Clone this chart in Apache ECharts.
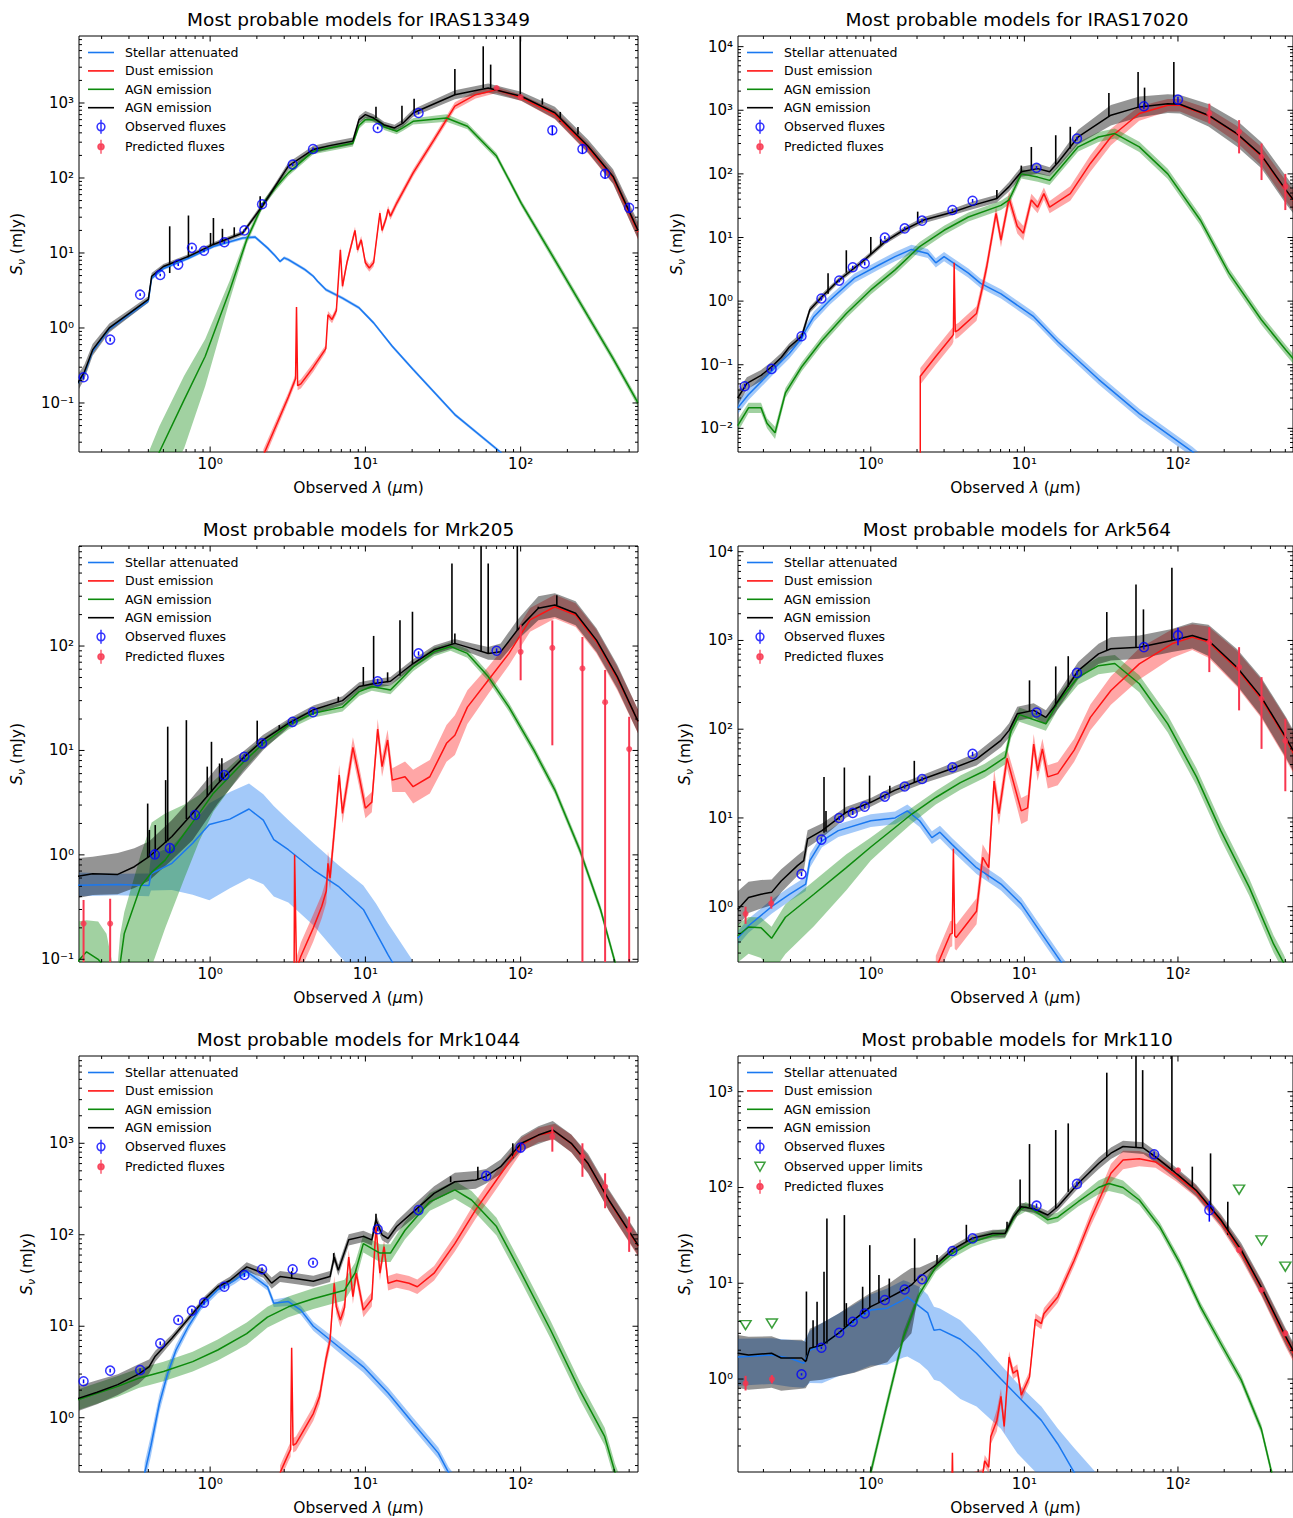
<!DOCTYPE html>
<html><head><meta charset="utf-8">
<script src="https://cdn.jsdelivr.net/npm/echarts@6/dist/echarts.min.js"></script>
<style>html,body{margin:0;padding:0;background:#fff}#c{width:1293px;height:1518px}</style>
</head><body><div id="c"></div>
<script>
// ---------------- DATA ----------------
// curve tuples: [wavelength_um, flux_mJy, bandLowerFactor, bandUpperFactor]
// spikes: [wavelength, base, peak]; observed: [wavelength, flux, err]; predicted: [wavelength, flux, low, high]
const xTickValues = [1, 10, 100];
const xTickLabels = ['10⁰', '10¹', '10²'];

// ---- IRAS13349 ----
const p1_yTicks = [0.1, 1, 10, 100, 1000];
const p1_yLabels = ['10⁻¹', '10⁰', '10¹', '10²', '10³'];
const p1_stellar = [[0.137,0.17,1.08,1.08],[0.155,0.25,1.08,1.08],[0.175,0.49,1.08,1.08],[0.224,0.97,1.07,1.07],[0.306,1.55,1.07,1.07],[0.40,2.3,1.06,1.06],[0.42,4.6,1.06,1.06],[0.50,6.2,1.05,1.05],[0.725,8.5,1.05,1.05],[1.05,12.2,1.05,1.05],[1.62,15.8,1.05,1.05],[1.95,16.3,1.05,1.05],[2.34,11.7,1.05,1.05],[2.62,9.2,1.05,1.05],[2.82,7.7,1.05,1.05],[3.0,8.6,1.05,1.05],[3.19,8.15,1.05,1.05],[3.61,7.0,1.05,1.05],[4.08,6.0,1.05,1.05],[4.62,4.9,1.05,1.05],[4.92,4.2,1.05,1.05],[5.56,3.25,1.05,1.05],[7.12,2.5,1.05,1.05],[9.12,1.85,1.05,1.05],[11.3,1.17,1.05,1.05],[14.9,0.57,1.05,1.05],[20.3,0.28,1.05,1.05],[37.7,0.07,1.05,1.05],[74.3,0.022,1.05,1.05],[100,0.011,1.05,1.05]];
const p1_dust = [[2.2,0.02,1.2,1.2],[3.19,0.12,1.15,1.15],[3.55,0.21,1.15,1.15],[3.6,1.9,1.1,1.1],[3.66,0.17,1.15,1.15],[3.84,0.18,1.15,1.15],[4.62,0.3,1.15,1.15],[5.56,0.53,1.12,1.12],[5.74,1.5,1.12,1.12],[6.1,1.3,1.12,1.12],[6.5,1.7,1.12,1.12],[6.9,11,1.12,1.12],[7.12,3.6,1.12,1.12],[7.6,7.4,1.12,1.12],[8.57,20,1.12,1.12],[8.9,11,1.12,1.12],[9.4,15,1.12,1.12],[10.0,7.4,1.12,1.12],[10.6,6.3,1.12,1.12],[11.3,7.4,1.12,1.12],[12.0,20,1.12,1.12],[12.4,34,1.12,1.12],[12.8,20,1.12,1.12],[13.6,29,1.12,1.12],[14.0,38,1.12,1.12],[14.5,31,1.12,1.12],[15.9,46,1.12,1.12],[20.3,117,1.12,1.12],[27.7,325,1.12,1.12],[37.7,910,1.12,1.12],[51.3,1290,1.12,1.12],[69.9,1500,1.1,1.1],[101,1170,1.1,1.1],[166,700,1.15,1.15],[272,250,1.18,1.18],[394,100,1.2,1.2],[570,19,1.25,1.25]];
const p1_agn = [[0.40,0.009,4,2.4],[0.47,0.022,4,2.2],[0.68,0.11,4.4,2.1],[0.93,0.42,2.5,1.7],[1.34,3.2,1.35,1.35],[1.72,15,1.15,1.15],[2.2,46,1.1,1.1],[2.65,75,1.1,1.1],[3.19,117,1.1,1.1],[4.62,228,1.1,1.1],[8.3,290,1.1,1.1],[9.1,500,1.1,1.1],[10,600,1.1,1.1],[11.7,600,1.1,1.1],[13.2,480,1.1,1.1],[15.9,420,1.1,1.1],[17.5,470,1.1,1.1],[20.3,570,1.1,1.1],[33.3,630,1.12,1.12],[45.4,490,1.1,1.1],[69.9,196,1.1,1.1],[101,46,1.1,1.1],[166,8.1,1.12,1.12],[272,1.43,1.12,1.12],[394,0.39,1.12,1.12],[570,0.1,1.12,1.12]];
const p1_total = [[0.137,0.17,1.3,1.3],[0.155,0.26,1.25,1.25],[0.175,0.51,1.2,1.2],[0.224,1.0,1.15,1.15],[0.306,1.6,1.12,1.12],[0.40,2.4,1.1,1.1],[0.42,4.9,1.1,1.1],[0.50,6.6,1.08,1.08],[0.725,9.0,1.07,1.07],[1.05,13,1.07,1.07],[1.62,18.5,1.07,1.07],[2.2,44,1.1,1.1],[2.65,80,1.1,1.1],[3.19,144,1.12,1.12],[4.62,240,1.12,1.12],[5.9,270,1.12,1.12],[8.3,310,1.12,1.12],[9.1,600,1.12,1.12],[10,700,1.12,1.12],[11.3,630,1.12,1.12],[13.2,510,1.1,1.1],[15.4,465,1.1,1.1],[17.5,540,1.12,1.12],[20.3,736,1.12,1.12],[37.7,1290,1.15,1.15],[61.8,1580,1.15,1.15],[101,1230,1.15,1.15],[166,740,1.2,1.2],[272,265,1.22,1.22],[394,105,1.25,1.25],[570,20,1.3,1.3]];
const p1_spikes = [[0.549,5.4,22.7],[0.725,8.6,31.6],[1.006,12.3,18.5],[1.05,12.9,29.3],[1.2,14.3,21],[1.43,16.7,22],[2.1,38,57],[11.7,630,890],[17.2,540,920],[20.6,760,1140],[37.7,1290,2830],[57.4,1570,5700],[64.1,1580,3250],[99.4,1240,9000],[138,950,1150],[180,560,760],[234,380,480]];
const p1_obs = [[0.153,0.22,0.015],[0.227,0.70,0.04],[0.354,2.78,0.12],[0.477,5.1,0.2],[0.623,7.0,0.3],[0.763,11.7,0.5],[0.913,10.7,0.5],[1.235,13.9,0.6],[1.662,20,0.9],[2.159,44.6,2],[3.4,151,6],[4.6,244,10],[12,464,20],[22,736,30],[160,433,60],[250,244,34],[350,114,16],[500,40,6]];
const p1_pred = [[70,1585,1540,1630],[100,1200,1160,1240]];

// ---- IRAS17020 ----
const p2_yTicks = [0.01, 0.1, 1, 10, 100, 1000, 10000];
const p2_yLabels = ['10⁻²', '10⁻¹', '10⁰', '10¹', '10²', '10³', '10⁴'];
const p2_stellar = [[0.136,0.021,1.25,1.25],[0.160,0.034,1.22,1.22],[0.226,0.079,1.2,1.2],[0.295,0.15,1.2,1.2],[0.355,0.26,1.2,1.2],[0.377,0.35,1.2,1.2],[0.426,0.57,1.2,1.2],[0.543,1.04,1.18,1.18],[0.783,2.3,1.18,1.18],[1.13,3.7,1.18,1.18],[1.44,5.0,1.18,1.18],[1.84,6.5,1.18,1.18],[2.35,5.6,1.18,1.18],[2.65,4.0,1.18,1.18],[3.0,5.0,1.18,1.18],[4.32,2.75,1.18,1.18],[5.19,1.9,1.18,1.18],[7.04,1.3,1.18,1.18],[11.5,0.57,1.18,1.18],[16.5,0.23,1.18,1.18],[30.4,0.059,1.2,1.2],[56,0.017,1.2,1.2],[124,0.0043,1.2,1.2],[160,0.0025,1.2,1.2]];
const p2_dust = [[2.1,0.002,1,1],[2.1,0.066,1.35,1.35],[2.65,0.135,1.35,1.35],[3.39,0.28,1.35,1.35],[3.45,0.3,1.3,1.3],[3.49,4.0,1.1,1.1],[3.55,0.33,1.3,1.3],[3.71,0.35,1.3,1.3],[4.88,0.64,1.3,1.3],[5.35,1.7,1.3,1.3],[5.69,3.5,1.3,1.3],[6.54,24,1.3,1.3],[7.04,9.1,1.3,1.3],[7.95,41,1.3,1.3],[8.99,15,1.3,1.3],[9.85,11.7,1.3,1.3],[11.1,39,1.25,1.25],[12.2,30,1.25,1.25],[13.4,49,1.25,1.25],[14.6,30,1.25,1.25],[19.9,49,1.3,1.3],[26.9,146,1.35,1.35],[36.6,380,1.35,1.35],[56,890,1.3,1.3],[85.8,1200,1.25,1.25],[103,1200,1.25,1.25],[158,820,1.3,1.3],[242,420,1.35,1.35],[349,190,1.4,1.4],[504,54,1.45,1.45],[570,37,1.45,1.45]];
const p2_agn = [[0.136,0.011,1.25,1.25],[0.160,0.021,1.2,1.2],[0.193,0.021,1.2,1.2],[0.211,0.012,1.2,1.2],[0.238,0.0085,1.25,1.25],[0.278,0.036,1.2,1.2],[0.355,0.093,1.18,1.18],[0.481,0.24,1.18,1.18],[0.693,0.64,1.18,1.18],[1.0,1.5,1.18,1.18],[1.44,3.1,1.18,1.18],[2.08,7.2,1.18,1.18],[3.0,13,1.18,1.18],[4.32,21,1.18,1.18],[7.04,32,1.18,1.18],[7.95,39,1.18,1.18],[9.55,100,1.18,1.18],[12.2,89,1.18,1.18],[14.6,79,1.18,1.18],[22.4,266,1.18,1.18],[30.4,380,1.2,1.2],[38.8,430,1.2,1.2],[56,266,1.2,1.2],[85.8,100,1.2,1.2],[140,18.7,1.2,1.2],[214,2.8,1.2,1.2],[349,0.51,1.2,1.2],[504,0.17,1.2,1.2],[570,0.12,1.2,1.2]];
const p2_total = [[0.136,0.030,1.3,1.3],[0.156,0.051,1.25,1.25],[0.193,0.068,1.22,1.22],[0.226,0.093,1.2,1.2],[0.261,0.13,1.18,1.18],[0.295,0.19,1.15,1.15],[0.355,0.28,1.15,1.15],[0.377,0.45,1.15,1.15],[0.401,0.73,1.12,1.12],[0.481,1.17,1.12,1.12],[0.614,2.1,1.1,1.1],[0.885,4.2,1.1,1.1],[1.24,8.6,1.1,1.1],[1.63,13,1.1,1.1],[2.21,18.8,1.12,1.12],[3.39,25,1.12,1.12],[4.6,32,1.15,1.15],[6.62,41,1.15,1.15],[7.95,63,1.18,1.18],[9.55,108,1.2,1.2],[12.2,121,1.2,1.2],[14.6,108,1.18,1.18],[16.5,150,1.2,1.2],[22.4,380,1.3,1.3],[36.6,835,1.45,1.45],[56,1130,1.45,1.45],[85.8,1270,1.4,1.4],[103,1240,1.4,1.4],[158,835,1.5,1.5],[242,430,1.6,1.6],[349,197,1.6,1.6],[504,56,1.65,1.65],[570,38,1.65,1.65]];
const p2_spikes = [[0.527,1.3,2.75],[0.693,2.8,6.3],[1.0,5.5,10.2],[1.16,7.5,9.5],[2.02,17,25.5],[6.62,41,56],[9.55,105,135],[11.1,118,265],[16.0,140,405],[19.9,250,550],[35.5,800,1870],[55,1120,4000],[60.6,1150,2270],[94,1260,5740]];
const p2_obs = [[0.151,0.046,0.004],[0.226,0.086,0.006],[0.354,0.28,0.02],[0.477,1.1,0.08],[0.623,2.1,0.12],[0.763,3.4,0.2],[0.913,3.9,0.25],[1.235,9.95,0.6],[1.662,13.9,0.9],[2.159,18.4,1.2],[3.4,27,1.5],[4.6,37.8,2.5],[12,125,8],[22,360,25],[60,1155,120],[100,1470,160]];
const p2_pred = [[160,890,620,1270],[250,460,210,700],[350,185,80,300],[500,63,27,100]];

// ---- Mrk205 ----
const p3_yTicks = [0.1, 1, 10, 100];
const p3_yLabels = ['10⁻¹', '10⁰', '10¹', '10²'];
const p3_stellar = [[0.137,0.51,1.27,1.33],[0.254,0.52,1.27,1.27],[0.404,0.51,1.27,1.3],[0.416,0.66,1.45,1.5],[0.567,0.83,1.8,1.45],[0.772,1.29,3.1,1.55],[0.988,1.95,5.3,1.6],[1.34,2.2,4.6,1.82],[1.78,2.75,4.6,1.75],[2.2,2.15,4.1,1.77],[2.57,1.4,3.5,2.1],[3.19,1.12,3.2,1.93],[4.62,0.72,3.4,1.8],[6.69,0.5,4.5,1.6],[9.7,0.30,5,1.7],[11.7,0.18,5,1.9],[14,0.11,5,2.0],[20,0.045,5,2.2]];
const p3_dust = [[3.47,0.05,1,1],[3.5,1.0,1.1,1.1],[3.6,0.08,1.3,1.3],[3.84,0.107,1.35,1.35],[4.62,0.2,1.35,1.35],[5.23,0.32,1.3,1.3],[5.6,0.45,1.3,1.3],[5.74,0.83,1.3,1.3],[5.92,0.6,1.3,1.3],[6.49,2.7,1.3,1.3],[6.78,5.8,1.25,1.25],[7.12,2.5,1.25,1.25],[8.31,10.7,1.25,1.25],[9.12,5.6,1.25,1.25],[10,2.8,1.25,1.25],[11,3.2,1.25,1.25],[12,16,1.25,1.25],[12.8,7,1.25,1.25],[13.9,12.6,1.25,1.25],[14.9,5.2,1.3,1.3],[18,5.6,1.4,1.4],[20.3,4.5,1.45,1.45],[26,5.6,1.45,1.45],[33.3,11.7,1.5,1.5],[37.7,14,1.55,1.55],[45.4,26,1.45,1.45],[61.8,47,1.35,1.35],[84.1,85,1.3,1.3],[115,178,1.3,1.3],[166,238,1.3,1.3],[226,198,1.3,1.3],[308,110,1.3,1.3],[419,49,1.3,1.3],[570,19,1.3,1.3]];
const p3_agn = [[0.137,0.092,3,2.5],[0.16,0.118,3,2.0],[0.19,0.1,3,2.3],[0.215,0.08,3,2.2],[0.235,0.05,3,1.8],[0.25,0.045,3,1.5],[0.263,0.09,3,1.9],[0.28,0.177,5,1.6],[0.357,0.5,7,2.0],[0.42,0.68,8,3.0],[0.513,0.89,4.5,2.8],[0.682,1.6,2.7,1.9],[0.85,2.5,1.85,1.5],[1.05,3.9,1.5,1.3],[1.62,7.6,1.2,1.2],[2.2,11.7,1.12,1.12],[3.19,17.5,1.1,1.1],[4.62,22.7,1.1,1.1],[7.12,26,1.1,1.1],[9.12,36.6,1.1,1.1],[11.0,41,1.1,1.1],[14.5,38,1.1,1.1],[20.3,63,1.1,1.1],[27.7,88,1.1,1.1],[35.4,99,1.1,1.1],[45.4,85,1.1,1.1],[61.8,51,1.1,1.1],[84.1,26,1.1,1.1],[122,10,1.1,1.1],[166,4.2,1.1,1.1],[240,1.12,1.1,1.1],[327,0.30,1.1,1.1],[406,0.093,1.1,1.1],[500,0.03,1.1,1.1]];
const p3_total = [[0.137,0.62,1.63,1.5],[0.175,0.66,1.6,1.45],[0.254,0.65,1.55,1.6],[0.325,0.77,1.6,1.5],[0.404,0.96,1.7,1.4],[0.567,1.5,1.68,1.44],[0.772,2.5,1.8,1.44],[1.12,4.8,1.55,1.46],[1.62,8.4,1.4,1.15],[2.2,12.6,1.25,1.12],[3.19,18.2,1.1,1.1],[4.62,24.5,1.1,1.1],[7.12,30,1.1,1.1],[9.12,41,1.1,1.1],[11.7,44,1.1,1.1],[14.5,46,1.1,1.1],[20.3,68,1.1,1.1],[27.7,92,1.1,1.1],[37.7,106,1.1,1.1],[48.3,95,1.12,1.12],[61.8,85,1.15,1.15],[74.3,88,1.2,1.2],[95.2,142,1.25,1.25],[130,230,1.3,1.3],[166,247,1.3,1.3],[226,206,1.3,1.3],[308,114,1.3,1.3],[419,51,1.3,1.3],[570,19,1.3,1.3]];
const p3_spikes = [[0.396,0.95,3.1],[0.406,0.97,1.73],[0.443,1.05,1.93],[0.517,1.3,5.2],[0.533,1.35,16.9],[0.703,2.2,19.5],[0.958,3.6,7.0],[1.02,4.0,12.1],[1.15,5.0,7.5],[1.19,5.3,8.4],[2.01,11.5,19.3],[2.79,16,17.5],[6.69,29,32.7],[9.7,42,63],[11.3,44,125],[13.9,45,56],[16.7,52,177],[20.1,67,213],[36.1,105,617],[37.7,106,132],[55.6,88,1100],[61.8,85,617],[95.2,142,1100],[130,230,238],[171,247,307]];
const p3_obs = [[0.44,1.01,0.08],[0.55,1.16,0.1],[0.8,2.41,0.15],[1.235,5.8,0.35],[1.662,8.7,0.5],[2.159,11.7,0.7],[3.4,18.8,1.0],[4.6,23.2,1.3],[12,46,2.5],[22,85,4],[70,90,5]];
const p3_pred = [[0.153,0.22,0.01,0.37],[0.227,0.22,0.01,0.38],[100,88,47,159],[160,96,11.2,176],[250,61,0.01,122],[350,29,0.01,59],[500,10.3,0.01,21]];

// ---- Ark564 ----
const p4_yTicks = [1, 10, 100, 1000, 10000];
const p4_yLabels = ['10⁰', '10¹', '10²', '10³', '10⁴'];
const p4_stellar = [[0.136,0.44,1.2,1.2],[0.160,0.61,1.2,1.2],[0.226,1.0,1.2,1.2],[0.295,1.38,1.2,1.2],[0.377,1.8,1.2,1.2],[0.401,3.3,1.2,1.2],[0.481,5.5,1.18,1.18],[0.614,7.2,1.18,1.18],[1.0,9.3,1.18,1.18],[1.44,10,1.18,1.18],[1.73,12,1.18,1.18],[2.08,9.3,1.18,1.18],[2.5,6.0,1.18,1.18],[2.82,6.9,1.18,1.18],[3.39,5.0,1.18,1.18],[4.88,2.75,1.18,1.18],[7.04,1.8,1.18,1.18],[9.55,1.07,1.18,1.18],[13,0.49,1.18,1.18],[17.6,0.23,1.18,1.18],[25,0.1,1.18,1.18]];
const p4_dust = [[2.65,0.2,1.4,1.4],[3.29,0.49,1.4,1.4],[3.39,0.5,1.4,1.4],[3.45,4.5,1.15,1.15],[3.52,0.47,1.4,1.4],[3.6,0.45,1.4,1.4],[4.88,0.89,1.4,1.4],[5.35,3.6,1.4,1.4],[5.86,2.75,1.4,1.4],[6.35,26,1.35,1.35],[6.83,11.2,1.35,1.35],[7.71,47,1.3,1.3],[8.45,26,1.35,1.35],[9.55,12,1.4,1.4],[10.5,13,1.4,1.4],[11.5,68,1.3,1.3],[12.2,34,1.3,1.3],[13.1,60,1.3,1.3],[14.2,29,1.35,1.35],[16.5,31.6,1.35,1.35],[21.1,58,1.35,1.35],[26.9,136,1.4,1.4],[36.6,273,1.45,1.45],[56,545,1.5,1.5],[91.3,917,1.45,1.45],[124,1090,1.4,1.4],[158,960,1.5,1.5],[242,480,1.6,1.6],[349,220,1.65,1.65],[504,78,1.7,1.7],[570,52,1.7,1.7]];
const p4_agn = [[0.136,0.47,2,1.36],[0.160,0.59,2,1.3],[0.193,0.58,2.2,1.3],[0.226,0.44,2.5,1.35],[0.278,0.76,2.6,1.4],[0.426,1.38,2.3,1.41],[0.693,2.75,1.8,1.42],[1.0,4.7,1.42,1.28],[1.44,7.8,1.32,1.22],[1.84,11,1.28,1.18],[2.65,17,1.2,1.18],[3.83,25,1.2,1.2],[5.52,34,1.2,1.2],[7.48,48,1.2,1.2],[8.2,96,1.2,1.2],[9.27,146,1.2,1.2],[11.1,131,1.2,1.2],[13.8,115,1.2,1.2],[16.5,200,1.2,1.2],[22.4,387,1.22,1.22],[30.4,520,1.25,1.25],[38.8,550,1.25,1.25],[56,325,1.25,1.25],[85.8,115,1.25,1.25],[132,29,1.25,1.25],[190,7.2,1.25,1.25],[291,1.66,1.25,1.25],[419,0.38,1.25,1.25],[489,0.23,1.25,1.25],[570,0.12,1.25,1.25]];
const p4_total = [[0.136,0.93,1.55,1.6],[0.160,1.27,1.5,1.5],[0.193,1.38,1.45,1.45],[0.226,1.45,1.4,1.4],[0.261,1.95,1.35,1.35],[0.333,2.9,1.3,1.3],[0.366,3.3,1.3,1.3],[0.388,5.8,1.25,1.25],[0.481,7.2,1.2,1.2],[0.693,11.6,1.15,1.15],[1.0,15,1.12,1.12],[1.44,20.6,1.12,1.12],[2.21,27.6,1.12,1.12],[3.39,36,1.15,1.15],[4.88,46,1.18,1.18],[7.04,75,1.2,1.2],[7.95,97,1.2,1.2],[8.99,149,1.2,1.2],[11.5,163,1.2,1.2],[13.8,136,1.2,1.2],[15.6,178,1.22,1.22],[22.4,458,1.25,1.25],[30.4,707,1.3,1.3],[36.6,805,1.35,1.35],[56,840,1.35,1.35],[91.3,1000,1.35,1.35],[124,1140,1.4,1.4],[158,1000,1.5,1.5],[242,500,1.6,1.6],[349,230,1.65,1.65],[504,81,1.7,1.7],[570,55,1.7,1.7]];
const p4_spikes = [[0.496,6.8,29],[0.511,7.0,12],[0.673,11,37],[0.982,14.7,30],[1.33,19,23],[1.92,25,44],[10.8,160,355],[16,180,510],[19.3,300,665],[34.4,780,2090],[53.3,840,4270],[59.6,845,2240],[91.3,1000,6600]];
const p4_obs = [[0.354,2.33,0.12],[0.477,5.7,0.3],[0.623,10,0.5],[0.763,11.4,0.6],[0.913,13.4,0.7],[1.235,17.4,0.9],[1.662,22.6,1.2],[2.159,27.5,1.5],[3.4,37.3,2],[4.6,52.7,3],[12,154,8],[22,431,25],[60,841,50],[100,1140,255]];
const p4_pred = [[0.153,0.83,0.64,1.0],[0.225,1.09,0.95,1.3],[160,957,440,1410],[250,500,163,840],[350,220,60,386],[500,74,20,131]];

// ---- Mrk1044 ----
const p5_yTicks = [1, 10, 100, 1000];
const p5_yLabels = ['10⁰', '10¹', '10²', '10³'];
const p5_stellar = [[0.37,0.15,1.3,1.3],[0.379,0.25,1.3,1.3],[0.416,0.5,1.3,1.3],[0.471,1.43,1.25,1.25],[0.533,3.06,1.2,1.2],[0.603,5.5,1.15,1.15],[0.725,10,1.12,1.12],[0.873,16.4,1.1,1.1],[1.12,25,1.1,1.1],[1.43,31.6,1.1,1.1],[1.72,39.5,1.1,1.1],[2.07,31.6,1.1,1.1],[2.34,27,1.1,1.1],[2.57,17.8,1.1,1.1],[3.19,18.6,1.12,1.12],[3.84,15,1.12,1.12],[4.62,10,1.12,1.12],[6.69,6.0,1.15,1.15],[9.7,3.6,1.15,1.15],[14,1.86,1.15,1.15],[20.3,0.87,1.15,1.15],[29.5,0.41,1.15,1.15],[34.4,0.25,1.15,1.15],[45,0.14,1.15,1.15]];
const p5_dust = [[2.82,0.25,1.2,1.2],[3.19,0.4,1.2,1.2],[3.3,0.45,1.2,1.2],[3.35,5.8,1.1,1.1],[3.42,0.5,1.2,1.2],[3.57,0.52,1.2,1.2],[4.62,1.11,1.2,1.2],[5.07,1.7,1.2,1.2],[5.56,4.3,1.2,1.2],[5.92,7,1.2,1.2],[6.3,29.5,1.2,1.2],[6.49,16.4,1.2,1.2],[6.9,11.7,1.2,1.2],[7.34,16,1.2,1.2],[7.81,57,1.2,1.2],[8.31,21,1.2,1.2],[8.73,38,1.2,1.2],[9.7,15,1.2,1.2],[11,19.7,1.2,1.2],[11.7,124,1.2,1.2],[12.4,38,1.2,1.2],[13.2,74,1.2,1.2],[14,29.5,1.2,1.2],[15.9,31.6,1.2,1.2],[19.1,29.5,1.2,1.2],[21.6,27,1.2,1.2],[27.7,38,1.2,1.2],[37.7,80,1.22,1.22],[51.3,187,1.25,1.25],[69.9,397,1.25,1.25],[101,960,1.2,1.2],[130,1230,1.2,1.2],[166,1340,1.22,1.22],[212,990,1.25,1.25],[272,590,1.25,1.25],[370,235,1.28,1.28],[560,79,1.3,1.3],[570,75,1.3,1.3]];
const p5_agn = [[0.137,1.55,1.3,1.3],[0.254,2.2,1.3,1.3],[0.346,2.7,1.28,1.28],[0.501,3.2,1.28,1.28],[0.772,4.1,1.28,1.28],[1.12,5.5,1.3,1.3],[1.72,8.3,1.32,1.32],[2.34,12.6,1.3,1.3],[3.19,16.3,1.3,1.3],[4.62,20,1.3,1.3],[7.34,24.8,1.3,1.3],[8.57,38,1.3,1.3],[9.7,80,1.25,1.25],[12.4,63,1.25,1.25],[14.5,63,1.25,1.25],[18,112,1.25,1.25],[26,229,1.25,1.25],[37.7,309,1.25,1.25],[48.3,240,1.25,1.25],[69.9,123,1.25,1.25],[101,38,1.25,1.25],[156,9.1,1.25,1.25],[240,2.0,1.25,1.25],[348,0.62,1.25,1.25],[406,0.25,1.25,1.25],[500,0.1,1.25,1.25]];
const p5_total = [[0.137,1.6,1.38,1.37],[0.187,1.9,1.35,1.35],[0.254,2.3,1.3,1.3],[0.346,3.0,1.28,1.28],[0.404,3.6,1.2,1.2],[0.443,4.7,1.15,1.15],[0.567,7.4,1.1,1.1],[0.772,13.8,1.08,1.08],[0.929,20,1.08,1.08],[1.12,27,1.08,1.08],[1.34,31.6,1.1,1.1],[1.72,44.6,1.12,1.12],[2.2,38,1.12,1.12],[2.49,29.6,1.15,1.15],[2.82,35,1.15,1.15],[3.61,33,1.15,1.15],[4.62,31,1.15,1.15],[5.92,35,1.15,1.15],[6.3,57,1.15,1.15],[6.69,41,1.15,1.15],[7.81,88,1.15,1.15],[9.7,96,1.15,1.15],[11,88,1.15,1.15],[11.7,145,1.15,1.15],[12.8,100,1.15,1.15],[14,91,1.15,1.15],[15.9,123,1.15,1.15],[20.3,178,1.18,1.18],[27.7,283,1.2,1.2],[37.7,380,1.25,1.25],[51.3,397,1.25,1.25],[59.9,435,1.2,1.2],[74.3,555,1.2,1.2],[101,1000,1.2,1.2],[130,1230,1.25,1.25],[161,1400,1.25,1.25],[212,1000,1.25,1.25],[272,600,1.28,1.28],[370,240,1.3,1.3],[560,81,1.3,1.3],[570,76,1.3,1.3]];
const p5_spikes = [[3.35,33,40],[6.25,50,63],[11.7,140,170],[35.4,375,435],[53,400,555],[89,685,1000]];
const p5_obs = [[0.153,2.5,0.12],[0.227,3.27,0.15],[0.354,3.32,0.15],[0.477,6.5,0.3],[0.623,11.7,0.5],[0.763,14.8,0.7],[0.913,18.1,0.9],[1.235,27,1.3],[1.662,36.3,1.8],[2.159,41.9,2],[3.4,41.9,2],[4.6,49.5,2.5],[12,115,6],[22,186,9],[60,440,40],[100,897,90]];
const p5_pred = [[160,1180,810,1520],[250,715,430,1000],[350,337,195,470],[500,113,65,158]];

// ---- Mrk110 ----
const p6_yTicks = [1, 10, 100, 1000];
const p6_yLabels = ['10⁰', '10¹', '10²', '10³'];
const p6_stellar = [[0.136,1.7,2.0,1.55],[0.226,1.78,2.0,1.5],[0.295,1.66,2.0,1.55],[0.366,1.46,1.8,1.7],[0.401,2.0,2.2,1.6],[0.481,2.26,2.5,1.7],[0.614,3.0,2.8,1.6],[0.783,4.0,3.4,1.5],[1.0,5.25,3.8,1.45],[1.28,5.5,3.9,1.6],[1.63,6.7,4.0,1.6],[1.73,7.2,4.2,1.45],[2.08,5.7,3.9,1.6],[2.35,4.9,4.0,1.55],[2.58,3.24,3.3,1.75],[2.82,3.3,3.5,1.65],[3.83,2.6,4.2,1.58],[4.88,1.86,3.6,1.49],[7.04,1.0,3.3,1.4],[9.0,0.67,4,1.35],[12.9,0.37,4,1.4],[16.5,0.21,4,1.45],[21.1,0.106,4,1.8],[30,0.042,4,2.4]];
const p6_dust = [[3.38,0.09,1,1],[3.4,0.17,1.05,1.05],[3.42,0.09,1,1],[5.35,0.1,1.15,1.15],[5.52,0.14,1.15,1.15],[5.86,0.12,1.15,1.15],[6.04,0.25,1.2,1.2],[6.62,0.37,1.3,1.3],[7.04,0.66,1.2,1.2],[7.39,0.32,1.2,1.2],[7.95,1.7,1.15,1.15],[8.45,1.15,1.15,1.15],[8.99,1.24,1.15,1.15],[9.55,0.68,1.15,1.15],[10.8,1.05,1.15,1.15],[11.8,4.2,1.15,1.15],[12.9,3.8,1.15,1.15],[13.4,4.8,1.15,1.15],[16.5,7.2,1.15,1.15],[21.1,17.4,1.15,1.15],[26.9,46,1.18,1.18],[36.6,141,1.25,1.25],[43.9,194,1.25,1.25],[56,200,1.2,1.2],[71.5,185,1.15,1.15],[97,134,1.15,1.15],[131,91,1.15,1.15],[190,44,1.15,1.15],[258,21,1.18,1.18],[349,8.8,1.2,1.2],[504,2.6,1.22,1.22],[570,1.8,1.22,1.22]];
const p6_agn = [[0.8,0.03,1.15,1.15],[1.0,0.106,1.15,1.15],[1.28,0.56,1.15,1.15],[1.63,2.75,1.15,1.15],[2.08,7.8,1.12,1.12],[2.65,14.8,1.12,1.12],[3.39,20.4,1.12,1.12],[4.6,27,1.12,1.12],[6.23,31.6,1.12,1.12],[7.48,33,1.12,1.12],[8.99,56,1.12,1.12],[10.2,63,1.12,1.12],[11.5,58,1.12,1.12],[14.2,46,1.12,1.12],[16.5,49,1.12,1.12],[22.4,71,1.12,1.12],[30.4,100,1.18,1.18],[35.5,110,1.2,1.2],[43.9,100,1.18,1.18],[56,74,1.12,1.12],[76,39,1.12,1.12],[103,16.2,1.12,1.12],[140,5.7,1.12,1.12],[190,2.35,1.12,1.12],[258,0.98,1.12,1.12],[349,0.3,1.12,1.12],[407,0.106,1.12,1.12],[500,0.04,1.12,1.12]];
const p6_total = [[0.136,1.86,2.3,1.55],[0.160,1.78,2.3,1.55],[0.226,1.86,2.3,1.5],[0.261,1.66,2.2,1.55],[0.355,1.66,2.1,1.55],[0.377,1.52,1.9,1.6],[0.401,2.1,2.2,1.6],[0.481,2.26,2.3,1.7],[0.614,3.0,2.8,1.6],[0.783,4.2,3.6,1.48],[1.0,5.7,4.3,1.4],[1.28,6.9,4.6,1.4],[1.63,8.5,3.5,1.5],[1.84,9.6,3.2,1.5],[2.08,11.7,1.3,1.25],[2.65,15.5,1.12,1.12],[3.39,22.3,1.1,1.1],[4.6,29.6,1.1,1.1],[6.23,33,1.1,1.1],[7.48,33,1.1,1.1],[8.45,49,1.1,1.1],[9.55,63,1.1,1.1],[11.5,60,1.1,1.1],[14.2,51.6,1.1,1.1],[16.5,63,1.1,1.1],[22.4,110,1.12,1.12],[30.4,178,1.15,1.15],[36.6,228,1.15,1.15],[43.9,268,1.15,1.15],[59.6,258,1.15,1.15],[71.5,209,1.15,1.15],[97,141,1.15,1.15],[131,94,1.15,1.15],[190,46,1.15,1.15],[258,22.3,1.18,1.18],[349,9.1,1.2,1.2],[504,2.75,1.22,1.22],[570,1.9,1.22,1.22]];
const p6_spikes = [[0.381,1.55,8.2],[0.421,2.1,4.1],[0.447,2.15,6.4],[0.496,2.3,13.2],[0.518,2.35,47.5],[0.673,3.5,51.5],[0.693,3.6,6.2],[0.885,4.8,9.2],[0.985,5.6,25],[1.13,6.3,12.2],[1.32,7.2,11.2],[1.93,10.5,29.5],[2.7,16,19.7],[4.19,27,40.8],[7.71,35,43.9],[9.38,60,121],[10.8,62,284],[16,60,398],[19.3,90,467],[34.4,210,1580],[53.3,265,3000],[58.9,262,1680],[91.3,150,3000],[124,100,165],[163,60,227],[211,32,71]];
const p6_obs = [[0.354,1.12,0.03],[0.477,2.12,0.06],[0.623,3.04,0.08],[0.763,3.96,0.1],[0.913,4.84,0.12],[1.235,6.68,0.2],[1.662,8.6,0.25],[2.159,11,0.3],[3.4,21.7,0.6],[4.6,29.4,0.8],[12,64.6,3.5],[22,109,6],[70,222,15],[160,58,14]];
const p6_upper = [[0.153,3.66],[0.227,3.8],[250,95],[350,28],[500,14.9]];
const p6_pred = [[0.153,0.9,0.76,1.08],[0.227,1.0,0.9,1.1],[100,151,145,158],[250,22.2,21,23.5],[350,8.5,8,9],[500,3.0,2.8,3.2]];

// ---------------- STYLE ----------------
const FONT = '"DejaVu Sans", "Noto Sans", sans-serif';
const COL = {stellar:'#1a78f0', dust:'#ff1414', agn:'#0c8a0c', total:'#000000', obs:'#0000ff', pred:'#f8364f', upper:'#0a870a'};
const BAND = {stellar:'rgba(26,120,240,0.4)', dust:'rgba(255,20,20,0.38)', agn:'rgba(20,140,20,0.4)', total:'rgba(0,0,0,0.42)'};

const panels = [
  {name:'IRAS13349', g:{left:79, top:36, width:559, height:416}, x:[0.143,570], y:[0.0222,7820], yT:p1_yTicks, yL:p1_yLabels, yGap:52, st:p1_stellar, du:p1_dust, ag:p1_agn, to:p1_total, sp:p1_spikes, ob:p1_obs, pr:p1_pred, up:null},
  {name:'IRAS17020', g:{left:738, top:36, width:561, height:416}, x:[0.1366,561], y:[0.00425,14700], yT:p2_yTicks, yL:p2_yLabels, yGap:51, st:p2_stellar, du:p2_dust, ag:p2_agn, to:p2_total, sp:p2_spikes, ob:p2_obs, pr:p2_pred, up:null},
  {name:'Mrk205', g:{left:79, top:546, width:559, height:416}, x:[0.143,570], y:[0.0942,908], yT:p3_yTicks, yL:p3_yLabels, yGap:52, st:p3_stellar, du:p3_dust, ag:p3_agn, to:p3_total, sp:p3_spikes, ob:p3_obs, pr:p3_pred, up:null},
  {name:'Ark564', g:{left:738, top:546, width:561, height:416}, x:[0.1366,561], y:[0.238,11600], yT:p4_yTicks, yL:p4_yLabels, yGap:43, st:p4_stellar, du:p4_dust, ag:p4_agn, to:p4_total, sp:p4_spikes, ob:p4_obs, pr:p4_pred, up:null},
  {name:'Mrk1044', g:{left:79, top:1056, width:559, height:416}, x:[0.143,570], y:[0.255,9000], yT:p5_yTicks, yL:p5_yLabels, yGap:42, st:p5_stellar, du:p5_dust, ag:p5_agn, to:p5_total, sp:p5_spikes, ob:p5_obs, pr:p5_pred, up:null},
  {name:'Mrk110', g:{left:738, top:1056, width:561, height:416}, x:[0.1366,561], y:[0.107,2360], yT:p6_yTicks, yL:p6_yLabels, yGap:43, st:p6_stellar, du:p6_dust, ag:p6_agn, to:p6_total, sp:p6_spikes, ob:p6_obs, pr:p6_pred, up:p6_upper}
];

// ---------------- BUILD ----------------
function mid(P){ return [Math.sqrt(P.x[0]*P.x[1]), Math.sqrt(P.y[0]*P.y[1])]; }
function bandSeries(gi, P, arr, color) {
  return {type:'custom', xAxisIndex:gi, yAxisIndex:gi, z:1, silent:true, clip:true, data:[mid(P)],
    renderItem(params, api) {
      const up = arr.map(p => api.coord([p[0], p[1]*p[3]]));
      const dn = arr.map(p => api.coord([p[0], p[1]/p[2]])).reverse();
      return {type:'polygon', shape:{points: up.concat(dn)}, style:{fill: color}};
    }};
}
function lineSeries(gi, name, arr, color) {
  return {type:'line', name, xAxisIndex:gi, yAxisIndex:gi, z:3, silent:true, symbol:'none', showSymbol:false, clip:true,
    data: arr.map(p => [p[0], p[1]]), lineStyle:{color, width:1.5}, itemStyle:{color}};
}
function vSegSeries(gi, data, color, width, z) {
  return {type:'custom', xAxisIndex:gi, yAxisIndex:gi, z, silent:true, clip:true, data,
    renderItem(params, api) {
      const a = api.coord([api.value(0), api.value(1)]);
      const b = api.coord([api.value(0), api.value(2)]);
      return {type:'line', shape:{x1:a[0], y1:a[1], x2:b[0], y2:b[1]}, style:{stroke:color, lineWidth:width}};
    }};
}
function decorSeries(gi, P) {
  return {type:'custom', xAxisIndex:gi, yAxisIndex:gi, z:20, silent:true, clip:false, data:[mid(P)],
    renderItem(params, api) {
      const cs = params.coordSys;
      const L = cs.x, T = cs.y, R = cs.x + cs.width, B = cs.y + cs.height;
      const ch = [];
      const ln = (x1,y1,x2,y2) => ch.push({type:'line', shape:{x1,y1,x2,y2}, style:{stroke:'#000', lineWidth:1}});
      const tx = (x,y,t,al,va) => ch.push({type:'text', x, y, style:{text:t, font:'15px ' + FONT, fill:'#000', textFill:'#000', align:al, textAlign:al, verticalAlign:va, textVerticalAlign:va}});
      const minors = (r) => { const out = []; for (let e = Math.floor(Math.log10(r[0])); e <= Math.ceil(Math.log10(r[1])); e++) for (let k = 2; k <= 9; k++) { const v = k*Math.pow(10,e); if (v > r[0] && v < r[1]) out.push(v); } return out; };
      minors(P.x).forEach(v => { const px = api.coord([v, P.y[0]])[0]; ln(px,B,px,B-3); ln(px,T,px,T+3); });
      xTickValues.forEach((v,i) => { const px = api.coord([v, P.y[0]])[0]; ln(px,B,px,B-5.5); ln(px,T,px,T+5.5); tx(px, B+4, xTickLabels[i], 'center', 'top'); });
      minors(P.y).forEach(v => { const py = api.coord([P.x[0], v])[1]; ln(L,py,L+3,py); ln(R,py,R-3,py); });
      P.yT.forEach((v,i) => { const py = api.coord([P.x[0], v])[1]; ln(L,py,L+5.5,py); ln(R,py,R-5.5,py); tx(L-5, py, P.yL[i], 'right', 'middle'); });
      return {type:'group', children: ch};
    }};
}

const grid = [], xAxis = [], yAxis = [], series = [], legend = [], title = [];
const lineIcon = 'path://M0,0 L26,0 L26,1.6 L0,1.6 Z';
const obsIcon = 'path://M5,0 L5,18 M5,4 A5,5 0 1 1 5,14 A5,5 0 1 1 5,4 Z';
const predIcon = 'path://M4,0 L4,16 M4,4.5 A3.5,3.5 0 1 1 4,11.5 A3.5,3.5 0 1 1 4,4.5 Z';
const upIcon = 'path://M5,0 M0,2.5 L10,2.5 L5,11.5 Z M5,14';

panels.forEach((P, gi) => {
  grid.push({left:P.g.left, top:P.g.top, width:P.g.width, height:P.g.height, show:true, borderColor:'#000', borderWidth:1, backgroundColor:'rgba(0,0,0,0)', containLabel:false});
  xAxis.push({type:'log', logBase:10, gridIndex:gi, min:P.x[0], max:P.x[1], axisLine:{show:false}, axisTick:{show:false}, axisLabel:{show:false}, splitLine:{show:false},
    name:'Observed {i|λ} ({i|μ}m)', nameLocation:'middle', nameGap:28,
    nameTextStyle:{fontSize:15.5, fontFamily:FONT, color:'#000', rich:{i:{fontSize:15.5, fontFamily:FONT, color:'#000', fontStyle:'italic'}}}});
  yAxis.push({type:'log', logBase:10, gridIndex:gi, min:P.y[0], max:P.y[1], axisLine:{show:false}, axisTick:{show:false}, axisLabel:{show:false}, splitLine:{show:false},
    name:'{a|S}{b|ν} (mJy)', nameLocation:'middle', nameGap:P.yGap,
    nameTextStyle:{fontSize:15.5, fontFamily:FONT, color:'#000', lineHeight:20, rich:{
      a:{fontSize:15.5, fontFamily:FONT, color:'#000', fontStyle:'italic', lineHeight:20},
      b:{fontSize:11, fontFamily:FONT, color:'#000', fontStyle:'italic', lineHeight:11, verticalAlign:'bottom'}}}});
  title.push({text:'Most probable models for ' + P.name, left:(P.g.left*2 + (gi % 2 ? 558 : 559))/2, top:P.g.top - 26, textAlign:'center', padding:0,
    textStyle:{fontSize:18.5, fontWeight:'normal', fontFamily:FONT, color:'#000'}});

  // bands
  series.push(bandSeries(gi, P, P.st, BAND.stellar));
  series.push(bandSeries(gi, P, P.du, BAND.dust));
  series.push(bandSeries(gi, P, P.ag, BAND.agn));
  series.push(bandSeries(gi, P, P.to, BAND.total));
  // model lines
  series.push(lineSeries(gi, 'Stellar attenuated', P.st, COL.stellar));
  series.push(lineSeries(gi, 'Dust emission', P.du, COL.dust));
  series.push(lineSeries(gi, 'AGN emission', P.ag, COL.agn));
  series.push(lineSeries(gi, 'AGN emission ', P.to, COL.total));
  series.push(vSegSeries(gi, P.sp, '#000', 1.6, 3));
  // observed
  series.push(vSegSeries(gi, P.ob.map(p => [p[0], p[1]-p[2], p[1]+p[2]]), COL.obs, 1.5, 4));
  series.push({type:'scatter', name:'Observed fluxes', xAxisIndex:gi, yAxisIndex:gi, z:5, silent:true, symbol:'circle', symbolSize:9,
    data:P.ob.map(p => [p[0], p[1]]), itemStyle:{color:'rgba(0,0,0,0)', borderColor:COL.obs, borderWidth:1.5}});
  if (P.up) series.push({type:'scatter', name:'Observed upper limits', xAxisIndex:gi, yAxisIndex:gi, z:5, silent:true, symbol:'triangle', symbolRotate:180, symbolSize:[11,9],
    data:P.up.map(p => [p[0], p[1]]), itemStyle:{color:'rgba(0,0,0,0)', borderColor:COL.upper, borderWidth:1.5}});
  series.push(vSegSeries(gi, P.pr.map(p => [p[0], p[2], p[3]]), COL.pred, 2, 4));
  series.push({type:'scatter', name:'Predicted fluxes', xAxisIndex:gi, yAxisIndex:gi, z:5, silent:true, symbol:'circle', symbolSize:6,
    data:P.pr.map(p => [p[0], p[1]]), itemStyle:{color:COL.pred}});
  series.push(decorSeries(gi, P));

  const ld = [
    {name:'Stellar attenuated', icon:lineIcon, itemStyle:{color:COL.stellar, borderWidth:0}},
    {name:'Dust emission', icon:lineIcon, itemStyle:{color:COL.dust, borderWidth:0}},
    {name:'AGN emission', icon:lineIcon, itemStyle:{color:COL.agn, borderWidth:0}},
    {name:'AGN emission ', icon:lineIcon, itemStyle:{color:COL.total, borderWidth:0}},
    {name:'Observed fluxes', icon:obsIcon, itemStyle:{color:'rgba(0,0,0,0)', borderColor:COL.obs, borderWidth:1.5}}
  ];
  if (P.up) ld.push({name:'Observed upper limits', icon:upIcon, itemStyle:{color:'rgba(0,0,0,0)', borderColor:COL.upper, borderWidth:1.5}});
  ld.push({name:'Predicted fluxes', icon:predIcon, itemStyle:{color:COL.pred, borderColor:COL.pred, borderWidth:1.5}});
  legend.push({left:P.g.left + 9, top:P.g.top + 9.5, orient:'vertical', itemWidth:26, itemHeight:14, itemGap:4.4, selectedMode:false, padding:0,
    textStyle:{fontSize:12.5, fontFamily:FONT, color:'#000', lineHeight:14, padding:[0,0,0,6]}, data:ld});
});

const chart = echarts.init(document.getElementById('c'), null, {renderer:'svg'});
chart.setOption({animation:false, backgroundColor:'#fff', textStyle:{fontFamily:FONT}, title, legend, grid, xAxis, yAxis, series});
</script></body></html>
